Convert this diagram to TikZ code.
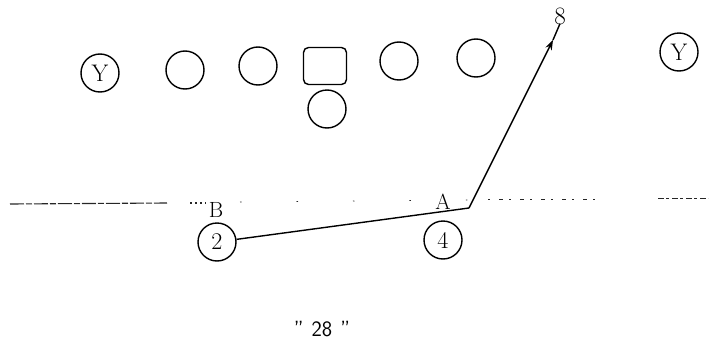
\documentclass[tikz,border=0pt]{standalone}
\usepackage{fontspec}
\setmainfont{Latin Modern Roman}
\setsansfont{Latin Modern Sans}
\usetikzlibrary{arrows.meta}
\begin{document}
\begin{tikzpicture}[x=1pt,y=-1pt,
  player/.style={draw,circle,line width=1.4pt,minimum size=38pt,inner sep=0pt,font=\fontsize{24}{24}\selectfont},
  centerbox/.style={draw,rounded corners=5pt,line width=1.4pt,minimum width=43pt,minimum height=37pt,inner sep=0pt},
  route/.style={line width=1.4pt},
  scrim/.style={line width=1.1pt,black!85},
  lbl/.style={font=\fontsize{22}{22}\selectfont,inner sep=0pt}]
\useasboundingbox (0,0) rectangle (710,351);
% line of scrimmage (slightly tilted scan)
\coordinate (s1) at (10,204); \coordinate (s2) at (167,203);
\coordinate (s3) at (190,203); \coordinate (s4) at (206,203);
\coordinate (s5) at (240,202); \coordinate (s6) at (470,200);
\coordinate (s7) at (488,199); \coordinate (s8) at (600,199);
\coordinate (s9) at (658,198); \coordinate (s10) at (708,198);
\draw[scrim,dash pattern=on 14pt off 2pt on 6pt off 2pt] (s1) -- (s2);
\draw[scrim,dash pattern=on 2pt off 3pt] (s3) -- (s4);
\draw[scrim,line width=0.8pt,dash pattern=on 1.5pt off 55pt] (s5) -- (s6);
\draw[scrim,line width=0.8pt,dash pattern=on 2pt off 9pt on 4pt off 6pt] (s7) -- (s8);
\draw[scrim,line width=0.8pt,dash pattern=on 6pt off 2pt on 3pt off 3pt] (s9) -- (s10);
% offensive line
\node[player] (yl) at (100,73) {Y};
\node[player] (t1) at (185,70) {};
\node[player] (g1) at (258,66) {};
\node[centerbox] (c) at (325,66) {};
\node[player] (qb) at (327,109) {};
\node[player] (g2) at (399,61) {};
\node[player] (t2) at (476,58) {};
\node[player] (yr) at (679,52) {Y};
% backs
\node[player] (b2) at (217,242) {2};
\node[player] (b4) at (443,240) {4};
\node[lbl] (lb) at (216,210) {B};
\node[lbl] (la) at (443,202) {A};
\node[lbl,font=\fontsize{25}{25}\selectfont] (l8) at (560,16) {8};
% route
\coordinate (turn) at (469,208);
\coordinate (head) at (553,40);
\draw[route] (b2) -- (turn);
\draw[route,-{Stealth[length=10pt,width=7pt]}] (turn) -- (head);
\draw[route] (head) -- ([yshift=1pt]l8.south);
% title
\node[font=\sffamily\fontsize{22}{22}\selectfont] (title) at (322,329) {"\hspace{8pt}28\hspace{8pt}"};
\end{tikzpicture}
\end{document}
